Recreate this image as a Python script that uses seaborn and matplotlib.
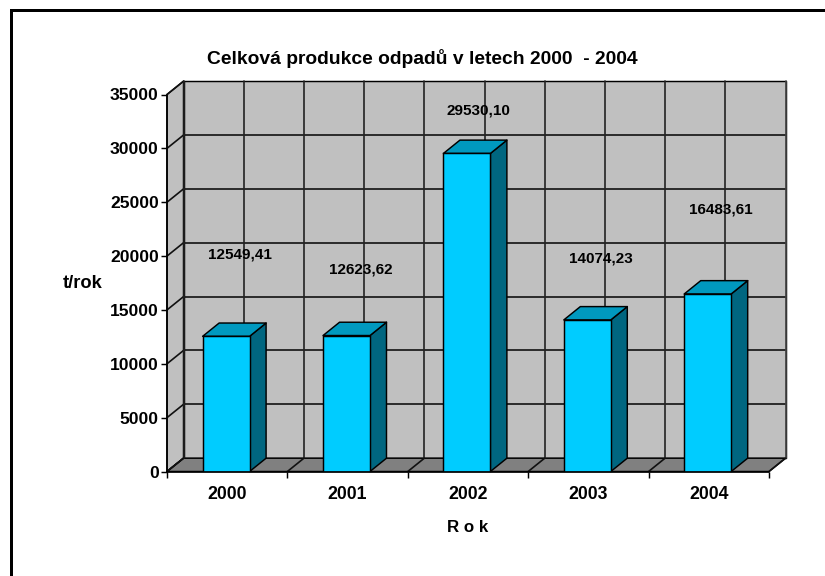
import matplotlib
matplotlib.use("Agg")
import matplotlib.pyplot as plt
from matplotlib.patches import Polygon
from matplotlib.lines import Line2D
from matplotlib.transforms import Affine2D
import pandas as pd
import seaborn as sns

years = ["2000", "2001", "2002", "2003", "2004"]
production = [12549.41, 12623.62, 29530.10, 14074.23, 16483.61]
y_ticks = [0, 5000, 10000, 15000, 20000, 25000, 30000, 35000]
title_text = "Celková produkce odpadů v letech 2000  - 2004"
x_label = "R o k"
y_label = "t/rok"
# label placement relative to the category centre / bar top, in pixels
label_dx = [13, 13, 10, 12, 12]
label_dy = [82, 66, 43, 61, 84]

W, H = 825, 576
DPI = 100
DX, DY = 16.5, 13.3
L, R, T, B = 167, 769, 94.5, 471.5
FONT = "Liberation Sans"
C_FRONT, C_TOP, C_SIDE = "#00CCFF", "#0099BF", "#006680"
C_WALL, C_FLOOR = "#C0C0C0", "#808080"
LW = 1.05
GRID_LW = 1.2
BAR_SHIFT = -0.009

sns.set_theme(style="white")
plt.rcParams["font.family"] = [FONT, "DejaVu Sans"]
fig = plt.figure(figsize=(W / DPI, H / DPI), dpi=DPI, facecolor="white")
ax = fig.add_axes([L / W, 1 - B / H, (R - L) / W, (B - T) / H])

df = pd.DataFrame({"year": years, "production": production})
sns.barplot(data=df, x="year", y="production", color=C_FRONT, saturation=1, width=0.39,
            edgecolor="black", linewidth=LW, ax=ax, zorder=5)
x0, x1 = -0.5, len(years) - 0.5
y0, y1 = y_ticks[0], y_ticks[-1]
ax.set_xlim(x0, x1)
ax.set_ylim(y0, y1)
for s in ax.spines.values():
    s.set_visible(False)

data = ax.transData
back = ax.transData + Affine2D().translate(DX, DY)


def to_fig(tr, pts):
    return tr.transform(pts)


def poly(pix, fc, z, ec="black"):
    ax.add_patch(Polygon(pix, closed=True, transform=None, fc=fc, ec=ec, lw=LW, zorder=z,
                         clip_on=False, joinstyle="round"))


def seg(pix, z, color="#111111", lw=GRID_LW):
    ax.add_line(Line2D(*zip(*pix), transform=None, color=color, lw=lw, zorder=z, clip_on=False))


fig.canvas.draw()
bars = list(ax.patches)
for bar in bars:
    bar.set_x(bar.get_x() + BAR_SHIFT)
# back wall, side wall, floor
poly(to_fig(back, [(x0, y0), (x1, y0), (x1, y1), (x0, y1)]), C_WALL, 1)
poly([*to_fig(data, [(x0, y0), (x0, y1)]), *to_fig(back, [(x0, y1), (x0, y0)])], C_WALL, 1)
poly([*to_fig(data, [(x0, y0), (x1, y0)]), *to_fig(back, [(x1, y0), (x0, y0)])], C_FLOOR, 1.5)

# grid on the walls and the floor
for t in y_ticks[1:-1]:
    seg(to_fig(back, [(x0, t), (x1, t)]), 2)
for t in y_ticks:
    seg([*to_fig(data, [(x0, t)]), *to_fig(back, [(x0, t)])], 2)
for i in range(len(years) + 1):
    xb = x0 + i
    seg(to_fig(back, [(xb, y0), (xb, y1)]), 2, color="#222222" if i < len(years) else "#444444")
    seg([*to_fig(data, [(xb, y0)]), *to_fig(back, [(xb, y0)])], 2)
for i in range(len(years)):
    seg(to_fig(back, [(i, y0), (i, y1)]), 2, color="#222222")

# 3D faces of the bars, derived from the seaborn bars
for bar in bars:
    bx0, bx1 = bar.get_x(), bar.get_x() + bar.get_width()
    v = bar.get_height()
    poly([*to_fig(data, [(bx1, 0), (bx1, v)]), *to_fig(back, [(bx1, v), (bx1, 0)])], C_SIDE, 4)
    poly([*to_fig(data, [(bx0, v), (bx1, v)]), *to_fig(back, [(bx1, v), (bx0, v)])], C_TOP, 4)

# axis lines
seg(to_fig(data, [(x0, y0), (x0, y1)]), 6, color="black")
seg(to_fig(data, [(x0, y0), (x1, y0)]), 6, color="black")

ax.set_yticks(y_ticks)
ax.set_yticklabels([str(t) for t in y_ticks], fontsize=12.6, fontweight="bold", color="black")
ax.set_xticks([i - 0.5 for i in range(len(years) + 1)], minor=True)
ax.set_xticks(range(len(years)))
ax.set_xticklabels(years, fontsize=12.7, fontweight="bold", color="black")
ax.tick_params(axis="y", which="major", left=True, length=4, width=LW, pad=2, color="black")
ax.tick_params(axis="x", which="minor", bottom=True, length=4, width=LW, color="black")
ax.tick_params(axis="x", which="major", bottom=False, pad=4.6)
ax.set_xlabel("")
ax.set_ylabel("")

# value labels
for i, v in enumerate(production):
    ax.annotate(f"{v:.2f}".replace(".", ","), xy=(i, v), xytext=(label_dx[i], label_dy[i]),
                xycoords="data", textcoords="offset pixels", ha="center", va="center",
                fontsize=11, fontweight="bold", color="black", zorder=8)

fig.text(422.5 / W, 1 - 58 / H, title_text, ha="center", va="center", fontsize=13.9, fontweight="bold", color="black")
fig.text(468 / W, 1 - 527 / H, x_label, ha="center", va="center", fontsize=12.2, fontweight="bold", color="black")
fig.text(82.5 / W, 1 - 284 / H, y_label, ha="center", va="center", fontsize=13.2, fontweight="bold", color="black")

# outer frame: only the left and top edges reach the picture
fig.add_artist(Line2D([10.5 / W, 10.5 / W, 1], [0, 1 - 9.5 / H, 1 - 9.5 / H],
                      transform=fig.transFigure, color="black", lw=2.16, solid_joinstyle="miter"))

fig.savefig("out.png", dpi=DPI, facecolor="white")
